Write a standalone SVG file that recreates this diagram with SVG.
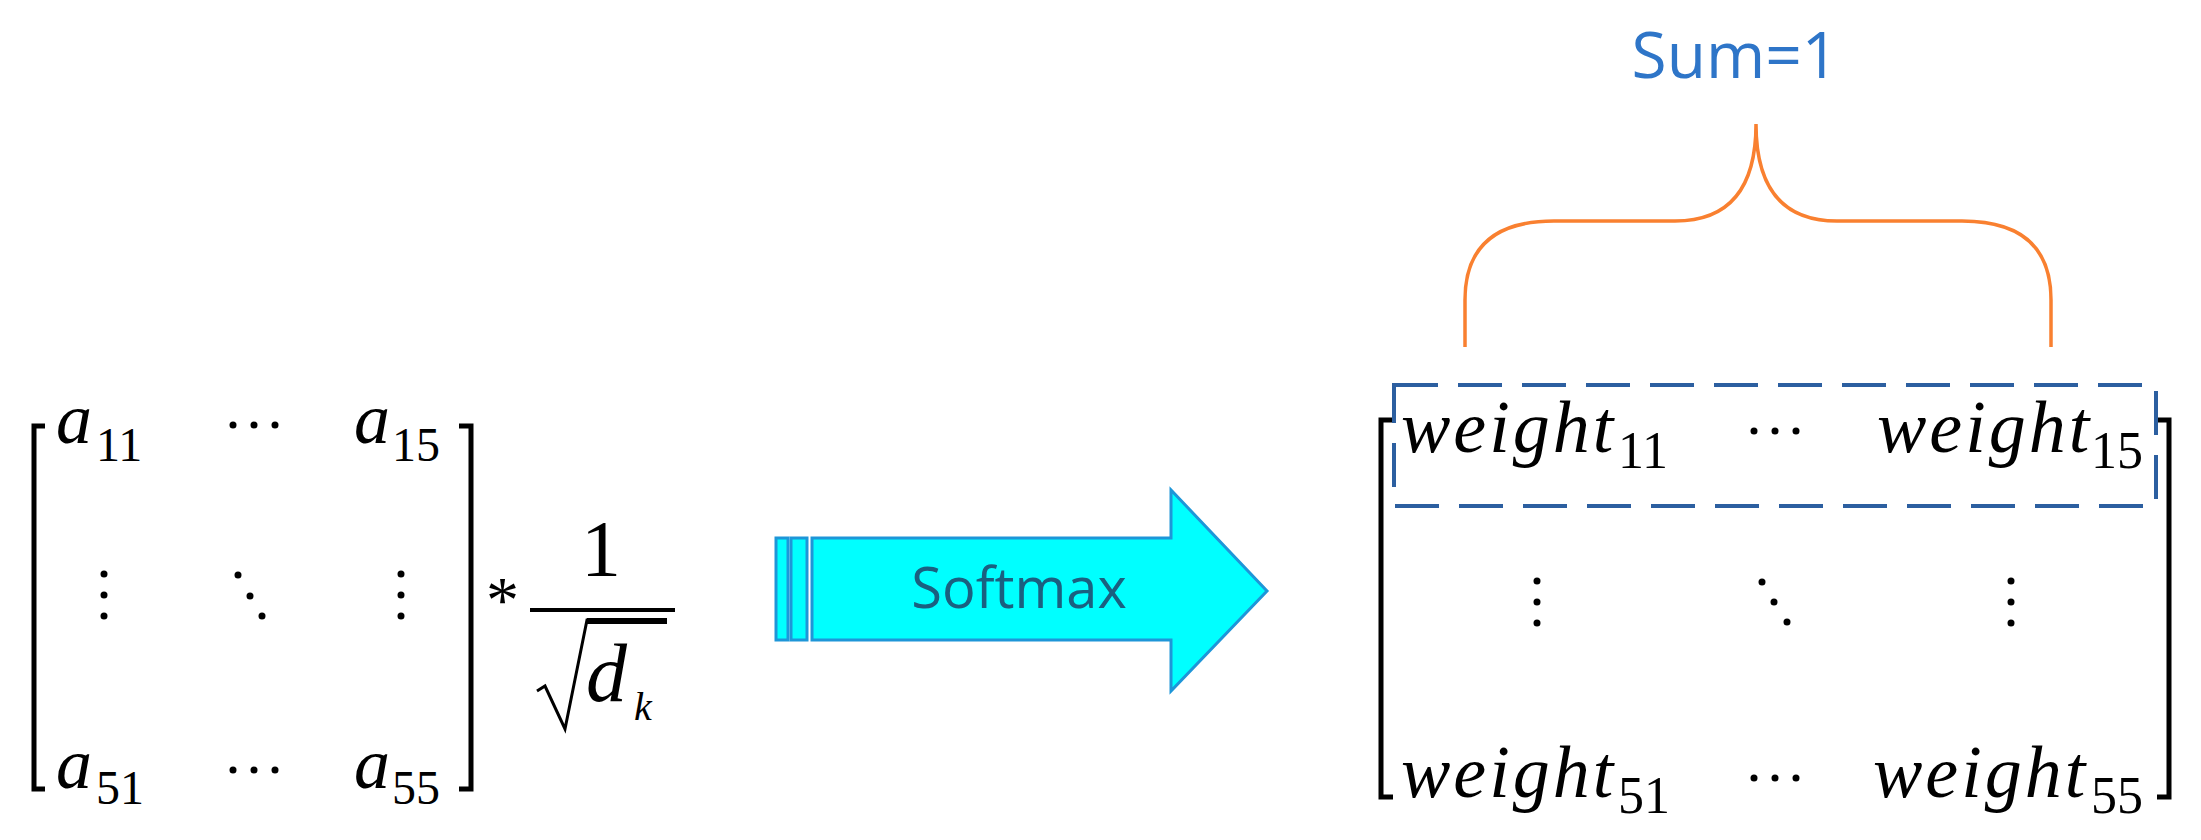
<svg xmlns="http://www.w3.org/2000/svg" width="2201" height="840" viewBox="0 0 2201 840">
<style>
.br{fill:none;stroke:#000;stroke-width:5}
.v{font-family:"Liberation Serif",serif;font-style:italic;fill:#000}
.w{font-size:74px;letter-spacing:3px}
.s{font-family:"Liberation Serif",serif;fill:#000}
.d{fill:#000}
</style>
<rect width="2201" height="840" fill="#fff"/>
<g id="left-matrix">
<path class="br" d="M45,426 H34 V789 H45 M459,426 H471 V789 H459"/>
<text class="v" x="56" y="443" font-size="72">a</text><text class="s" x="96" y="461" font-size="48">11</text>
<text class="v" x="354" y="443" font-size="72">a</text><text class="s" x="392" y="461" font-size="48">15</text>
<text class="v" x="56" y="788" font-size="72">a</text><text class="s" x="96" y="804" font-size="48">51</text>
<text class="v" x="354" y="788" font-size="72">a</text><text class="s" x="392" y="804" font-size="48">55</text>
<g class="d">
<circle cx="233" cy="425" r="3.5"/><circle cx="254" cy="425" r="3.5"/><circle cx="275" cy="425" r="3.5"/>
<circle cx="233" cy="770" r="3.5"/><circle cx="254" cy="770" r="3.5"/><circle cx="275" cy="770" r="3.5"/>
<circle cx="104" cy="574" r="3.5"/><circle cx="104" cy="595" r="3.5"/><circle cx="104" cy="616" r="3.5"/>
<circle cx="401" cy="574" r="3.5"/><circle cx="401" cy="595" r="3.5"/><circle cx="401" cy="616" r="3.5"/>
<circle cx="238" cy="575" r="3.5"/><circle cx="250" cy="596" r="3.5"/><circle cx="262" cy="616" r="3.5"/>
</g>
</g>
<g id="scale">
<text class="s" x="486" y="622" font-size="66">*</text>
<text class="s" x="581" y="576" font-size="80">1</text>
<line x1="530" y1="610" x2="675" y2="610" stroke="#000" stroke-width="4"/>
<path d="M537,691 L545,686 L565,729 L587,620 H667" fill="none" stroke="#000" stroke-width="3"/>
<line x1="587" y1="621" x2="667" y2="621" stroke="#000" stroke-width="6"/>
<text class="v" x="586" y="701" font-size="82">d</text>
<text class="v" x="634" y="720" font-size="40">k</text>
</g>
<g id="softmax-arrow">
<rect x="776" y="538" width="12" height="102" fill="#00FFFF" stroke="#1E96D8" stroke-width="3"/>
<rect x="791" y="538" width="16" height="102" fill="#00FFFF" stroke="#1E96D8" stroke-width="3"/>
<path d="M812,538 H1171 V490 L1267,591 L1171,691 V640 H812 Z" fill="#00FFFF" stroke="#1E96D8" stroke-width="3"/>
<text x="1019" y="608" font-family="'Open Sans','Liberation Sans',sans-serif" font-size="56" fill="#1A6080" text-anchor="middle">Softmax</text>
</g>
<g id="sum-label">
<text x="1735" y="78" font-family="'Open Sans','Liberation Sans',sans-serif" font-size="64" fill="#2E75C8" text-anchor="middle">Sum=1</text>
</g>
<g id="connectors">
<path d="M1465,347 V300 Q1465,221 1554,221 H1675 Q1756,221 1756,124 Q1756,221 1837,221 H1962 Q2051,221 2051,300 V347" fill="none" stroke="#F98030" stroke-width="3.5"/>
</g>
<g id="right-matrix">
<path class="br" d="M1393,420 H1381 V797 H1393 M2157,420 H2169 V797 H2157"/>
<text class="v w" x="1401" y="452">weight</text><text class="s" x="1618" y="468" font-size="52">11</text>
<text class="v w" x="1877" y="452">weight</text><text class="s" x="2091" y="468" font-size="52">15</text>
<text class="v w" x="1401" y="797">weight</text><text class="s" x="1618" y="813" font-size="52">51</text>
<text class="v w" x="1873" y="797">weight</text><text class="s" x="2091" y="813" font-size="52">55</text>
<g class="d">
<circle cx="1754" cy="431" r="3.5"/><circle cx="1775" cy="431" r="3.5"/><circle cx="1796" cy="431" r="3.5"/>
<circle cx="1754" cy="778" r="3.5"/><circle cx="1775" cy="778" r="3.5"/><circle cx="1796" cy="778" r="3.5"/>
<circle cx="1537" cy="581" r="3.5"/><circle cx="1537" cy="602" r="3.5"/><circle cx="1537" cy="623" r="3.5"/>
<circle cx="2011" cy="581" r="3.5"/><circle cx="2011" cy="602" r="3.5"/><circle cx="2011" cy="623" r="3.5"/>
<circle cx="1762" cy="582" r="3.5"/><circle cx="1774" cy="602" r="3.5"/><circle cx="1787" cy="622" r="3.5"/>
</g>
<rect x="1394" y="385" width="762" height="121" fill="none" stroke="#2C5FA0" stroke-width="4" stroke-dasharray="44,20"/>
</g>
</svg>
